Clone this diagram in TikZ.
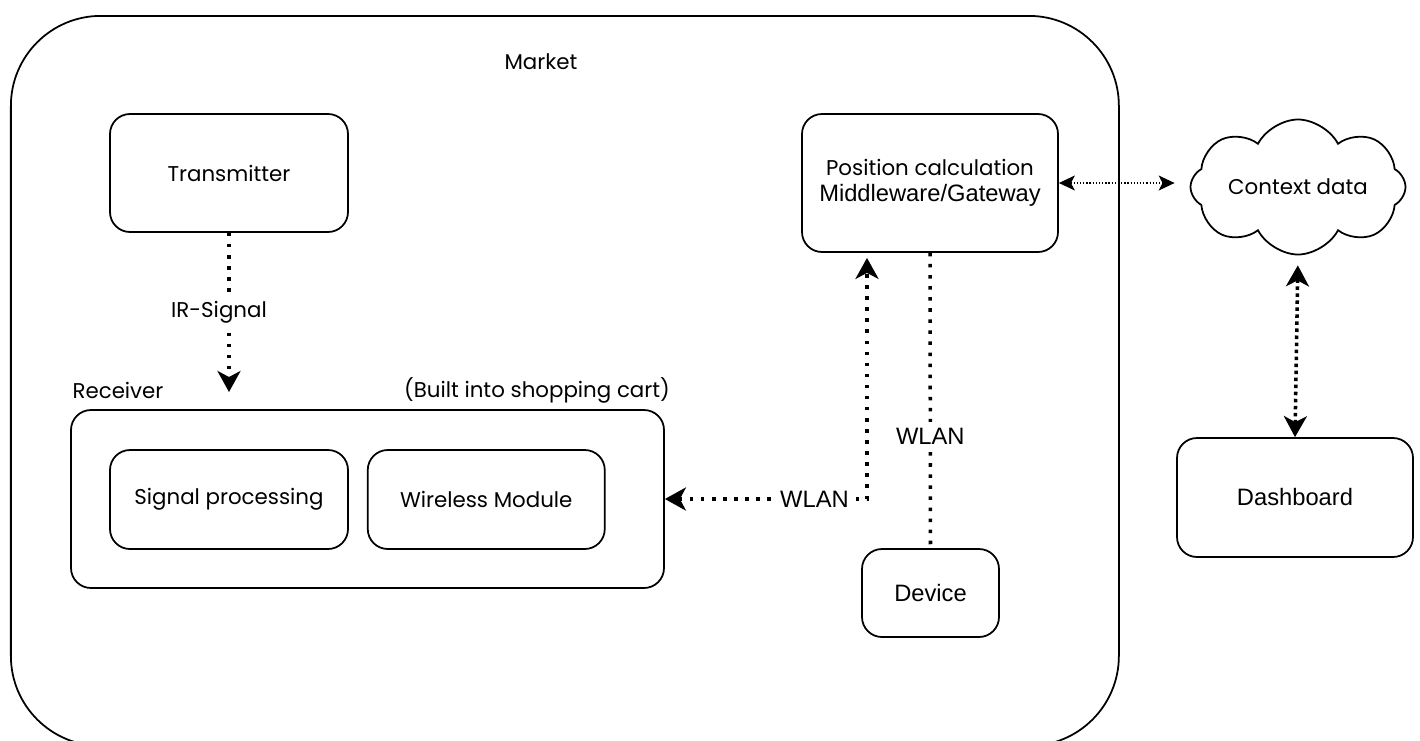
\documentclass[tikz,border=0pt]{standalone}
\usepackage{fontspec}
\setmainfont{Liberation Sans}
\newfontfamily\geo{Poppins}[Scale=0.9]
\usetikzlibrary{arrows.meta, positioning, shapes.symbols}
\tikzstyle{box} = [rectangle, draw=black, line width=1pt, rounded corners=0.4cm, text centered, align=center, font=\fontsize{13.5}{15}\selectfont]
\tikzstyle{tag} = [align=center, font=\fontsize{13.5}{15}\selectfont]
\tikzstyle{wlan} = [line width=2pt, dash pattern=on 2pt off 4.3pt]
\tikzstyle{arrow} = [wlan, >={Stealth[length=0.42cm, width=0.46cm, inset=0.12cm]}]
\tikzstyle{densearrow} = [line width=2pt, dash pattern=on 2pt off 2pt, >={Stealth[length=0.42cm, width=0.46cm, inset=0.12cm]}]
\tikzstyle{thinarrow} = [line width=0.7pt, dash pattern=on 0.7pt off 1.1pt, >={Stealth[length=0.32cm, width=0.3cm, inset=0.08cm]}]

\begin{document}
\begin{tikzpicture}
  \useasboundingbox (0,0) rectangle (28.4,-14.8);
  % Markt
  \node (market) [draw, line width=1pt, rounded corners=1.8cm, minimum width=22.16cm, minimum height=14.6cm, anchor=north west] at (0.2,-0.3) {};
  \node (markettxt) [tag] at (10.82,-1.24) {\geo Market};
  % Sender
  \node (trans) [box, minimum width=4.76cm, minimum height=2.36cm] at (4.58,-3.46) {\geo Transmitter};
  % Empfaenger
  \node (recv) [box, minimum width=11.86cm, minimum height=3.56cm] at (7.35,-9.98) {};
  \node (sigproc) [box, minimum width=4.76cm, minimum height=1.98cm] at (4.58,-9.99) {\geo Signal processing};
  \node (wireless) [box, minimum width=4.74cm, minimum height=1.98cm, right=0.36cm of sigproc] {\geo Wireless Module};
  \node (recvtxt) [tag] at (2.36,-7.8) {\geo Receiver};
  \node (carttxt) [tag] at (10.74,-7.8) {\geo (Built into shopping cart)};
  % Gateway
  \node (poscalc) [box, minimum width=5.12cm, minimum height=2.76cm] at (18.6,-3.66) {\geo Position calculation\\Middleware/Gateway};
  \node (device) [box, minimum width=2.74cm, minimum height=1.76cm] at (18.61,-11.86) {Device};
  % Ausserhalb
  \node (context) [cloud, draw, line width=1pt, cloud puffs=8, cloud puff arc=125, aspect=2.2, inner sep=0pt, minimum width=4.3cm, minimum height=2.7cm, font=\fontsize{13.5}{15}\selectfont] at (25.96,-3.74) {\geo Context data};
  \node (dash) [box, minimum width=4.72cm, minimum height=2.38cm] at (25.9,-9.95) {Dashboard};
  % Pfeile
  \coordinate (irend) at (4.58,-7.84);
  \draw [arrow, ->] (trans.south) -- node [tag, fill=white, xshift=-0.2cm] {\geo IR-Signal} (irend);
  \draw [arrow, <->, shorten >=0.1cm] (recv.east) -| node [tag, pos=0.37, fill=white] {WLAN} ([xshift=-1.26cm]poscalc.south);
  \draw [wlan] (poscalc.south) -- node [tag, pos=0.62, fill=white] {WLAN} (device.north);
  \draw [thinarrow, <->, shorten >=0.3cm] (poscalc.east) -- (poscalc.east -| context.west);
  \draw [densearrow, <->, shorten <=0.2cm] (context.south) -- (dash.north);
\end{tikzpicture}
\end{document}
